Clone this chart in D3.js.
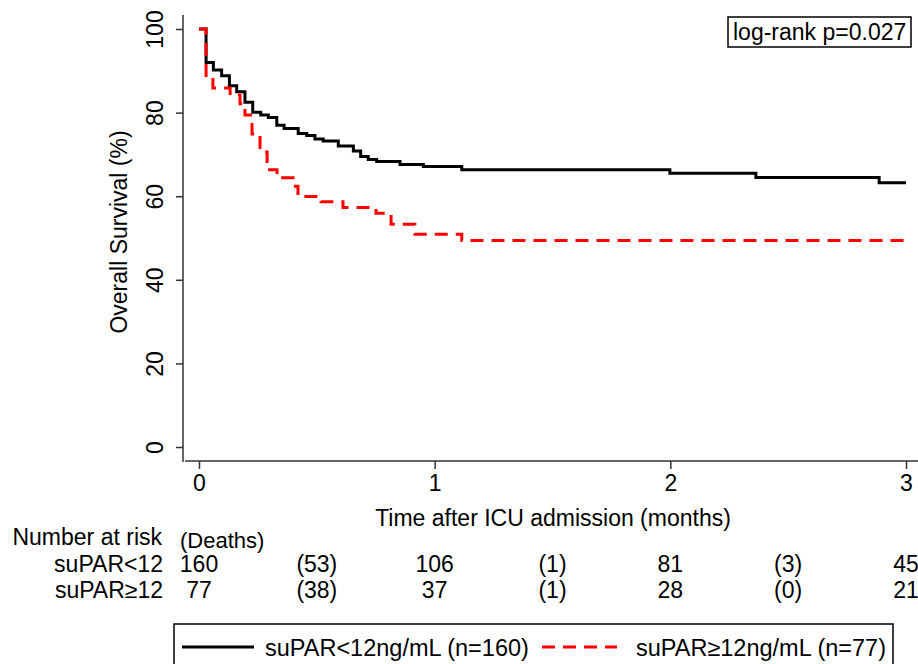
<!DOCTYPE html>
<html>
<head>
<meta charset="utf-8">
<script src="https://cdn.jsdelivr.net/npm/d3@7"></script>
<style>
  body { margin: 0; background: #fff; }
  svg { display: block; font-family: "Liberation Sans", Arial, sans-serif; }
</style>
</head>
<body>
<svg id="km" width="918" height="664"></svg>
<script>
// KM estimates: time in months, survival in %
const lowTimes = [0, 0.030, 0.061, 0.096, 0.129, 0.160, 0.195, 0.228, 0.262, 0.294, 0.330, 0.361,
  0.421, 0.457, 0.492, 0.527, 0.591, 0.655, 0.686, 0.718, 0.754, 0.853, 0.952, 1.115, 1.998, 2.363, 2.886, 3.0];
const lowSurv = [100, 92.0, 90.2, 88.8, 86.4, 85.0, 82.5, 80.1, 79.4, 78.8, 77.0, 76.2,
  75.0, 74.5, 73.7, 73.2, 72.0, 70.8, 69.5, 68.8, 68.3, 67.6, 67.1, 66.3, 65.5, 64.5, 63.2, 63.2];

const highTimes = [0, 0.030, 0.059, 0.132, 0.174, 0.195, 0.225, 0.259, 0.289, 0.331, 0.399, 0.420,
  0.518, 0.611, 0.751, 0.815, 0.916, 1.115, 3.0];
const highSurv = [100, 88.5, 85.9, 84.2, 82.1, 79.4, 74.9, 70.6, 66.3, 64.4, 62.4, 59.9,
  58.7, 57.3, 55.9, 53.3, 50.9, 49.4, 49.4];

const xTicks = [0, 1, 2, 3];
const yTicks = [0, 20, 40, 60, 80, 100];

const groupNames = ["suPAR<12", "suPAR\u226512"];
const legendNames = ["suPAR<12ng/mL (n=160)", "suPAR\u226512ng/mL (n=77)"];
const riskTimes = [0, 1, 2, 3];
const riskLow = [160, 106, 81, 45];
const riskHigh = [77, 37, 28, 21];
const deathTimes = [0.5, 1.5, 2.5];
const deathsLow = [53, 1, 3];
const deathsHigh = [38, 1, 0];
const pText = "log-rank p=0.027";

const svg = d3.select("#km");
const fs = 23;

svg.append("rect").attr("width", 918).attr("height", 664).attr("fill", "#fff");

const x = d3.scaleLinear().domain([0, 3]).range([199, 906]);
const y = d3.scaleLinear().domain([0, 100]).range([447, 29]);
const axisX = 183, axisY = 461;

// y axis
const gy = svg.append("g")
  .attr("transform", `translate(${axisX},0)`)
  .call(d3.axisLeft(y).tickValues(yTicks).tickSize(7).tickSizeOuter(0));
gy.select(".domain").remove();
gy.selectAll(".tick line").attr("stroke", "#333").attr("stroke-width", 1.5);
gy.selectAll(".tick text")
  .attr("transform", "rotate(-90)")
  .attr("x", 0).attr("y", -20).attr("dy", 0)
  .attr("text-anchor", "middle")
  .style("font-size", fs + "px").style("font-family", "Liberation Sans, Arial, sans-serif")
  .attr("fill", "#000");
gy.append("line").attr("x1", 0).attr("x2", 0).attr("y1", 15).attr("y2", axisY + 1)
  .attr("stroke", "#333").attr("stroke-width", 1.5);

// x axis
const gx = svg.append("g")
  .attr("transform", `translate(0,${axisY})`)
  .call(d3.axisBottom(x).tickValues(xTicks).tickFormat(d3.format("d")).tickSize(8).tickSizeOuter(0));
gx.select(".domain").remove();
gx.selectAll(".tick line").attr("stroke", "#333").attr("stroke-width", 1.5);
gx.selectAll(".tick text")
  .attr("y", 30).attr("dy", 0)
  .style("font-size", fs + "px").style("font-family", "Liberation Sans, Arial, sans-serif")
  .attr("fill", "#000");
gx.append("line").attr("x1", axisX + 2).attr("x2", 918).attr("y1", 0).attr("y2", 0)
  .attr("stroke", "#333").attr("stroke-width", 1.5);

// axis titles
svg.append("text")
  .attr("transform", "translate(127,232) rotate(-90)")
  .attr("text-anchor", "middle")
  .style("font-size", fs + "px")
  .text("Overall Survival (%)");

svg.append("text")
  .attr("x", 553).attr("y", 526)
  .attr("text-anchor", "middle")
  .style("font-size", fs + "px")
  .text("Time after ICU admission (months)");

// survival curves
const step = d3.line()
  .x(d => x(d[0]))
  .y(d => y(d[1]))
  .curve(d3.curveStepAfter);

svg.append("path")
  .datum(d3.zip(lowTimes, lowSurv))
  .attr("d", step)
  .attr("fill", "none")
  .attr("stroke", "#000")
  .attr("stroke-width", 3);

svg.append("path")
  .datum(d3.zip(highTimes, highSurv))
  .attr("d", step)
  .attr("fill", "none")
  .attr("stroke", "#ff0000")
  .attr("stroke-width", 3)
  .attr("stroke-dasharray", "13,8");

// p value box
const pBox = svg.append("g");
pBox.append("rect")
  .attr("x", 728).attr("y", 17).attr("width", 183).attr("height", 30)
  .attr("fill", "#fff").attr("stroke", "#000").attr("stroke-width", 1.5);
pBox.append("text")
  .attr("x", 733).attr("y", 40)
  .style("font-size", fs + "px")
  .text(pText);

// number at risk table
svg.append("text").attr("x", 162).attr("y", 545).attr("text-anchor", "end")
  .style("font-size", fs + "px").text("Number at risk");
svg.append("text").attr("x", x(0) - 19).attr("y", 548)
  .style("font-size", "22px").text("(Deaths)");

const rowY = [572, 598];
const riskRows = [riskLow, riskHigh];
const deathRows = [deathsLow, deathsHigh];

rowY.forEach((ry, i) => {
  svg.append("text").attr("x", 163).attr("y", ry).attr("text-anchor", "end")
    .style("font-size", fs + "px").text(groupNames[i]);

  svg.selectAll(null)
    .data(d3.zip(riskTimes, riskRows[i]))
    .enter().append("text")
    .attr("x", d => x(d[0]))
    .attr("y", ry)
    .attr("text-anchor", "middle")
    .style("font-size", fs + "px")
    .text(d => d[1]);

  svg.selectAll(null)
    .data(d3.zip(deathTimes, deathRows[i]))
    .enter().append("text")
    .attr("x", d => x(d[0]))
    .attr("y", ry)
    .attr("text-anchor", "middle")
    .style("font-size", fs + "px")
    .text(d => `(${d[1]})`);
});

// legend
const legend = svg.append("g");
legend.append("rect")
  .attr("x", 174).attr("y", 624).attr("width", 719).attr("height", 60)
  .attr("fill", "#fff").attr("stroke", "#000").attr("stroke-width", 1.5);

const legendItems = [
  { x0: 182, x1: 254, tx: 265, color: "#000", dash: null },
  { x0: 542, x1: 617, tx: 636, color: "#ff0000", dash: "13,8" }
];
legendItems.forEach((it, i) => {
  legend.append("line")
    .attr("x1", it.x0).attr("x2", it.x1).attr("y1", 647).attr("y2", 647)
    .attr("stroke", it.color).attr("stroke-width", 3)
    .attr("stroke-dasharray", it.dash);
  legend.append("text")
    .attr("x", it.tx).attr("y", 656)
    .style("font-size", "23.5px")
    .text(legendNames[i]);
});
</script>
</body>
</html>
